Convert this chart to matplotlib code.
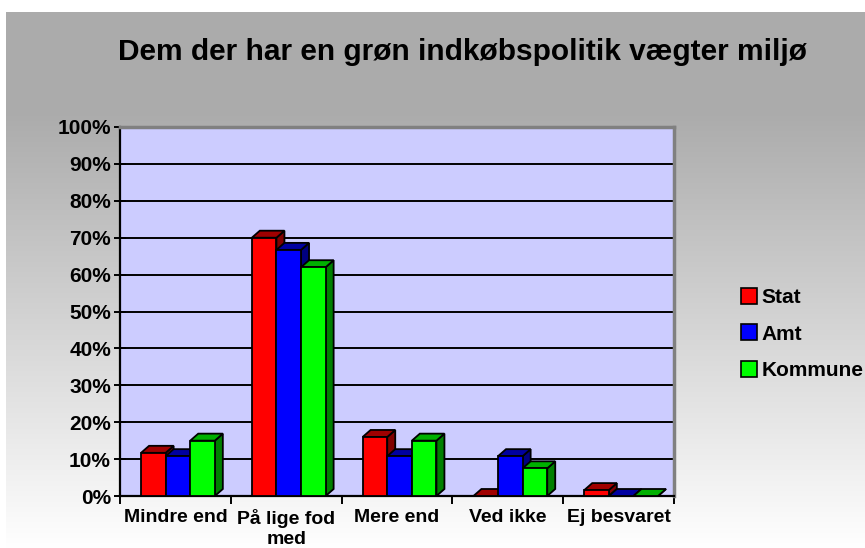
import numpy as np
import matplotlib
matplotlib.use("Agg")
import matplotlib.pyplot as plt
from matplotlib.patches import Polygon, Rectangle
from matplotlib.ticker import FixedLocator, NullFormatter
from matplotlib.lines import Line2D

plt.rcParams['font.family'] = ['Liberation Sans', 'DejaVu Sans']
plt.rcParams['font.weight'] = 'bold'

title = "Dem der har en grøn indkøbspolitik vægter miljø"
categories = ["Mindre end", "På lige fod\nmed", "Mere end", "Ved ikke", "Ej besvaret"]
series_names = ["Stat", "Amt", "Kommune"]
stat = [11.7, 70.0, 16.0, 0.0, 1.6]
amt = [10.8, 66.7, 10.8, 10.8, 0.0]
kommune = [15.0, 62.0, 15.0, 7.5, 0.0]
y_ticks = [0, 10, 20, 30, 40, 50, 60, 70, 80, 90, 100]
y_ticklabels = [f"{t}%" for t in y_ticks]

front_colors = ["#FF0000", "#0000FF", "#00FF00"]
top_colors = ["#A00000", "#0000A0", "#00B000"]
side_colors = ["#800000", "#000080", "#008000"]

W, H = 865, 548
fig = plt.figure(figsize=(W / 100, H / 100), dpi=100)

# background gradient
bg = fig.add_axes([0, 0, 1, 1], zorder=-10)
bg.set_xlim(0, W)
bg.set_ylim(H, 0)
bg.axis('off')
rows = np.arange(H)
vals = np.where(rows < 110, 0xAB / 255.0,
                0xAB / 255.0 + (rows - 110) / (H - 110) * (1 - 0xAB / 255.0))
vals = np.clip(vals, 0, 1)
img = np.repeat(vals[:, None], 3, axis=1)[:, None, :]
img = np.repeat(img, W, axis=1)
img[:12, :, :] = 1.0
img[:, :6, :] = 1.0
bg.imshow(img, extent=[0, W, H, 0], aspect='auto', interpolation='nearest')

ax = fig.add_axes([120 / W, (H - 496) / H, (674 - 120) / W, (496 - 127) / H])
ax.set_facecolor("#CCCCFF")
ax.set_xlim(-0.5, 4.5)
ax.set_ylim(0, 100)

for t in y_ticks[1:]:
    ax.axhline(t, color='black', lw=1.4, zorder=1)

data = [stat, amt, kommune]
w = 0.222
start = 0.19
dx = 8 / 111.0
dy = 7 / 3.69
elw = 1.3
x = np.arange(len(categories))
for i in x:
    for s, vals_s in enumerate(data):
        v = vals_s[i]
        x0 = i - 0.5 + start + s * w
        side = Polygon([(x0 + w, 0), (x0 + w + dx, dy), (x0 + w + dx, v + dy), (x0 + w, v)],
                       closed=True, facecolor=side_colors[s], edgecolor='black', lw=elw, zorder=3,
                       joinstyle='miter')
        top = Polygon([(x0, v), (x0 + w, v), (x0 + w + dx, v + dy), (x0 + dx, v + dy)],
                      closed=True, facecolor=top_colors[s], edgecolor='black', lw=elw, zorder=3,
                      joinstyle='miter')
        ax.add_patch(side)
        ax.add_patch(top)
        if v > 0:
            front = Rectangle((x0, 0), w, v, facecolor=front_colors[s], edgecolor='black',
                              lw=elw, zorder=3, joinstyle='miter')
            ax.add_patch(front)

ax.set_yticks(y_ticks)
ax.set_yticklabels(y_ticklabels, fontsize=15, fontweight='bold')
ax.tick_params(axis='y', direction='inout', length=9, width=1.4, pad=2)

ax.xaxis.set_major_locator(FixedLocator(np.arange(-0.5, 5.0, 1.0)))
ax.xaxis.set_major_formatter(NullFormatter())
ax.xaxis.set_minor_locator(FixedLocator(x))
ax.set_xticklabels(categories, minor=True, fontsize=14, fontweight='bold', linespacing=1.3)
ax.tick_params(axis='x', which='major', direction='out', length=6, width=1.4)
ax.tick_params(axis='x', which='minor', length=0, pad=9)

ax.spines['left'].set_color('black')
ax.spines['left'].set_linewidth(1.6)
ax.spines['bottom'].set_color('black')
ax.spines['bottom'].set_linewidth(1.6)
ax.spines['top'].set_color('#808080')
ax.spines['top'].set_linewidth(2.5)
ax.spines['right'].set_color('#808080')
ax.spines['right'].set_linewidth(2.5)

fig.text(463 / W, 1 - 52 / H, title, ha='center', va='center', fontsize=21.5, fontweight='bold')

# legend
handles = [Line2D([], [], linestyle='none', marker='s', markersize=11, markerfacecolor=c,
                  markeredgecolor='black', markeredgewidth=1.2) for c in front_colors]
fig.legend(handles, series_names, loc='center left', bbox_to_anchor=(730 / W, 1 - 334 / H),
           frameon=False, prop={'size': 15, 'weight': 'bold'}, handletextpad=0.1,
           labelspacing=0.85, handlelength=1.0, borderaxespad=0)

fig.savefig("out.png", dpi=100)
